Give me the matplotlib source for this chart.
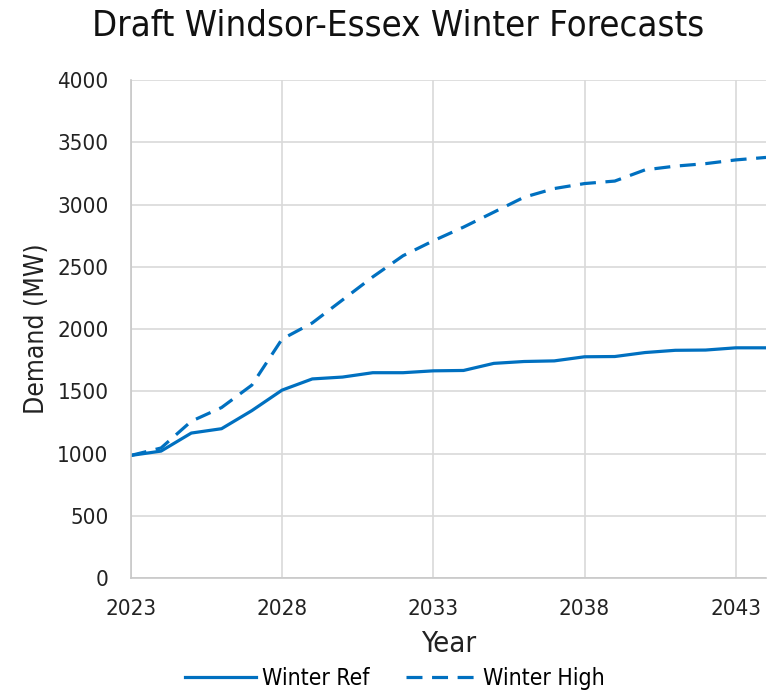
import matplotlib.pyplot as plt

years = list(range(2023, 2045))
winter_ref = [985, 1020, 1165, 1200, 1345, 1510, 1600, 1615, 1650, 1650, 1665,
              1668, 1725, 1740, 1745, 1778, 1780, 1812, 1830, 1832, 1850, 1850]
winter_high = [985, 1045, 1260, 1370, 1550, 1920, 2050, 2235, 2420, 2590, 2710,
               2820, 2940, 3060, 3130, 3170, 3190, 3280, 3310, 3330, 3360, 3380]
x_ticks = [2023, 2028, 2033, 2038, 2043]
y_ticks = list(range(0, 4001, 500))

plt.rcParams['font.family'] = ['DejaVu Sans']
plt.rcParams['font.stretch'] = 'condensed'
blue = '#0070C0'
text_col = '#222222'

fig = plt.figure(figsize=(7.74, 6.92), dpi=100)
ax = fig.add_axes([0.169, 0.1647, 0.8207, 0.7193])

ax.plot(years, winter_ref, color=blue, lw=2.3, label='Winter Ref')
ax.plot(years, winter_high, color=blue, lw=2.3, linestyle=(0, (5, 3)),
        label='Winter High')

ax.set_xlim(2023, 2044)
ax.set_ylim(0, 4000)
ax.set_xticks(x_ticks)
ax.set_yticks(y_ticks)
ax.tick_params(length=0, labelsize=16, colors=text_col)
ax.tick_params(axis='x', pad=15)
ax.tick_params(axis='y', pad=16)
ax.grid(True, color='#d9d9d9', lw=1.2)
ax.set_axisbelow(True)
for side in ['top', 'right']:
    ax.spines[side].set_visible(False)
for side in ['left', 'bottom']:
    ax.spines[side].set_color('#c8c8c8')
    ax.spines[side].set_linewidth(1.2)

ax.set_xlabel('Year', fontsize=21, color=text_col)
ax.xaxis.set_label_coords(0.5, -0.104)
ax.set_ylabel('Demand (MW)', fontsize=19, color=text_col, labelpad=5)
fig.suptitle('Draft Windsor-Essex Winter Forecasts', fontsize=26.2,
             color='#111111', x=0.515, y=0.988)

fig.legend(loc='center', bbox_to_anchor=(0.51, 0.02), ncol=2,
           frameon=False, fontsize=16.5, handlelength=3.1, handletextpad=0.25,
           columnspacing=1.6, borderpad=0, borderaxespad=0)

fig.savefig('out.png', dpi=100)
